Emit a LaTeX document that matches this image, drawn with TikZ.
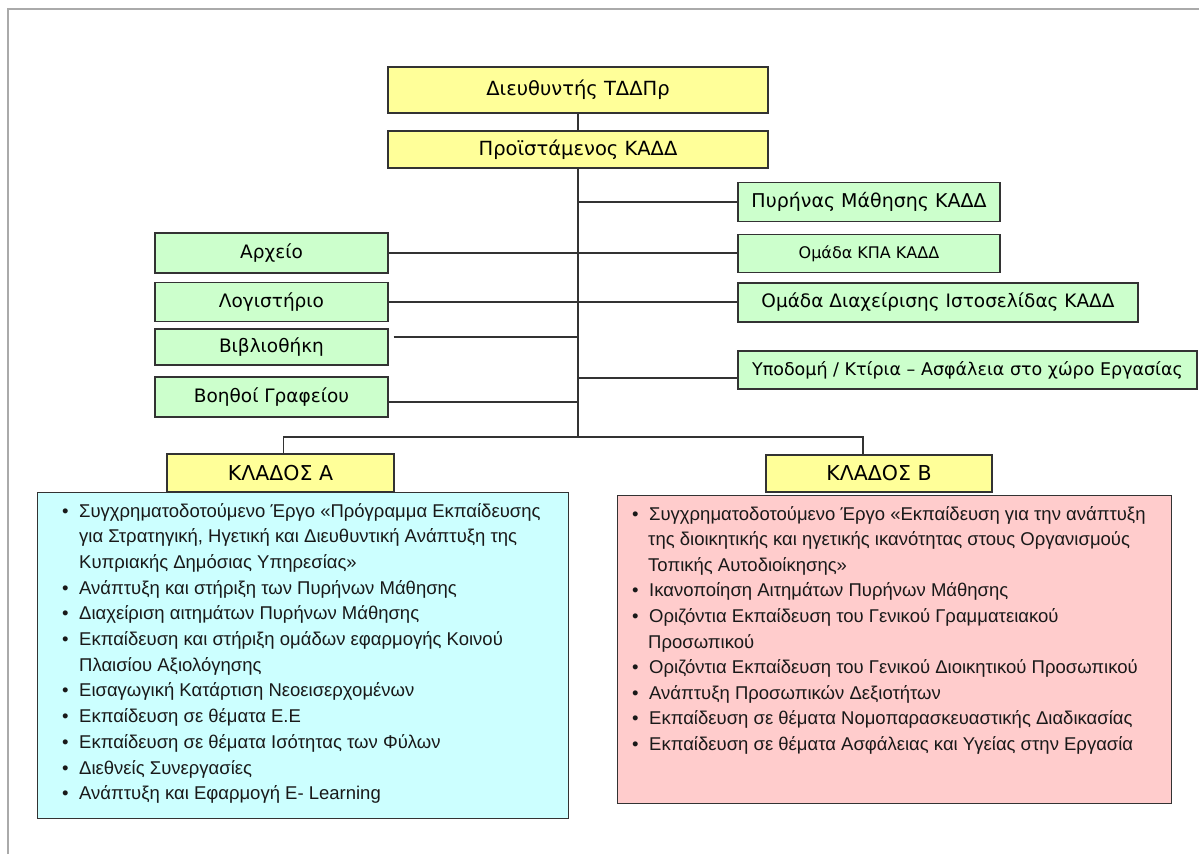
\documentclass[tikz,border=0pt]{standalone}
\usepackage{fontspec}
\setmainfont{Liberation Sans}
\newfontfamily\labfont{DejaVu Sans}
\usetikzlibrary{calc}
\definecolor{ylw}{HTML}{FFFF99}
\definecolor{grn}{HTML}{CCFFCC}
\definecolor{cyn}{HTML}{CCFFFF}
\definecolor{pnk}{HTML}{FFCCCC}
\definecolor{edgec}{HTML}{333333}
\definecolor{framec}{HTML}{AAAAAA}
\newcommand\lbul{\makebox[17pt][l]{\textbullet}}
\begin{document}
\begin{tikzpicture}[x=1pt,y=-1pt,
  box/.style={draw=edgec,line width=1.4pt,inner sep=0pt,text=black,font=\labfont\fontsize{18.5}{20}\selectfont},
  ybox/.style={box,fill=ylw},
  gbox/.style={box,fill=grn},
  conn/.style={draw=edgec,line width=1.6pt},
  ltxt/.style={anchor=base west,inner sep=0pt,font=\fontsize{18.5}{22}\selectfont,text=black!90}]
\useasboundingbox (0,0) rectangle (1199,854);
\fill[white] (0,0) rectangle (1199,854);
\draw[framec,line width=1.5pt] (8,854) -- (8,9) -- (1199,9);

% top boxes
\node[ybox,minimum width=380pt,minimum height=46pt,font=\labfont\fontsize{19.5}{21}\selectfont] (dir) at (578,90) {Διευθυντής ΤΔΔΠρ};
\node[ybox,minimum width=380pt,minimum height=37pt,font=\labfont\fontsize{19.5}{21}\selectfont] (pro) at (578,149.5) {Προϊστάμενος ΚΑΔΔ};

% left boxes
\node[gbox,minimum width=233pt,minimum height=40pt] (arx) at (271.5,253) {Αρχείο};
\node[gbox,minimum width=233pt,minimum height=39pt] (log) at (271.5,302) {Λογιστήριο};
\node[gbox,minimum width=233pt,minimum height=36pt] (vib) at (271.5,347) {Βιβλιοθήκη};
\node[gbox,minimum width=233pt,minimum height=40pt] (voi) at (271.5,397) {Βοηθοί Γραφείου};

% right boxes
\node[gbox,minimum width=262pt,minimum height=39pt,font=\labfont\fontsize{19}{21}\selectfont] (pyr) at (869,202) {Πυρήνας Μάθησης ΚΑΔΔ};
\node[gbox,minimum width=262pt,minimum height=38pt,font=\labfont\fontsize{16}{18}\selectfont] (kpa) at (869,253.5) {Ομάδα ΚΠΑ ΚΑΔΔ};
\node[gbox,minimum width=400pt,minimum height=39pt] (dia) at (938,302.5) {Ομάδα Διαχείρισης Ιστοσελίδας ΚΑΔΔ};
\node[gbox,minimum width=459pt,minimum height=38pt,font=\labfont\fontsize{17.5}{19}\selectfont] (ypo) at (967.5,370) {Υποδομή / Κτίρια – Ασφάλεια στο χώρο Εργασίας};

% connectors
\coordinate (j) at (578,437);
\draw[conn] (dir) -- (pro);
\draw[conn] (pro.south) -- (j);
\draw[conn] (pyr.west) -- (pyr.west -| j);
\draw[conn] (arx.east) -- (arx.east -| kpa.west);
\draw[conn] (log.east) -- (log.east -| dia.west);
\coordinate (vibc) at ($(vib.east)+(5,-10)$);
\draw[conn] (vibc) -- (vibc -| j);
\coordinate (voic) at ($(voi.east)+(0,5)$);
\draw[conn] (voic) -- (voic -| j);
\coordinate (ypoc) at ($(ypo.west)+(0,8)$);
\draw[conn] (ypoc -| j) -- (ypoc);

% branch boxes
\node[draw=edgec,line width=1.4pt,fill=cyn,anchor=north west,minimum width=531pt,minimum height=326pt,inner sep=0pt] (blu) at (37,492) {};
\node[draw=edgec,line width=1.4pt,fill=pnk,anchor=north west,minimum width=554pt,minimum height=308pt,inner sep=0pt] (pin) at (617,495) {};
\node[ybox,minimum width=227pt,minimum height=38pt,font=\labfont\fontsize{20.5}{22}\selectfont] (ka) at (280.5,473) {ΚΛΑΔΟΣ Α};
\node[ybox,minimum width=226pt,minimum height=37pt,font=\labfont\fontsize{20.5}{22}\selectfont] (kb) at (879,473.5) {ΚΛΑΔΟΣ Β};
\draw[conn] ($(ka.north)+(3,0)$) |- (j) -| ($(kb.north)+(-16,0)$);

% list A
\node[ltxt] (a0) at (62,517) {\lbul Συγχρηματοδοτούμενο Έργο «Πρόγραμμα Εκπαίδευσης};
\node[ltxt] (a1) at (79,542.7) {για Στρατηγική, Ηγετική και Διευθυντική Ανάπτυξη της};
\node[ltxt] (a2) at (79,568.4) {Κυπριακής Δημόσιας Υπηρεσίας»};
\node[ltxt] (a3) at (62,594.1) {\lbul Ανάπτυξη και στήριξη των Πυρήνων Μάθησης};
\node[ltxt] (a4) at (62,619.8) {\lbul Διαχείριση αιτημάτων Πυρήνων Μάθησης};
\node[ltxt] (a5) at (62,645.5) {\lbul Εκπαίδευση και στήριξη ομάδων εφαρμογής Κοινού};
\node[ltxt] (a6) at (79,671.2) {Πλαισίου Αξιολόγησης};
\node[ltxt] (a7) at (62,696.9) {\lbul Εισαγωγική Κατάρτιση Νεοεισερχομένων};
\node[ltxt] (a8) at (62,722.6) {\lbul Εκπαίδευση σε θέματα Ε.Ε};
\node[ltxt] (a9) at (62,748.3) {\lbul Εκπαίδευση σε θέματα Ισότητας των Φύλων};
\node[ltxt] (a10) at (62,774) {\lbul Διεθνείς Συνεργασίες};
\node[ltxt] (a11) at (62,799.7) {\lbul Ανάπτυξη και Εφαρμογή E- Learning};

% list B
\node[ltxt] (b0) at (632,520) {\lbul Συγχρηματοδοτούμενο Έργο «Εκπαίδευση για την ανάπτυξη};
\node[ltxt] (b1) at (648,545.6) {της διοικητικής και ηγετικής ικανότητας στους Οργανισμούς};
\node[ltxt] (b2) at (648,571.2) {Τοπικής Αυτοδιοίκησης»};
\node[ltxt] (b3) at (632,596.8) {\lbul Ικανοποίηση Αιτημάτων Πυρήνων Μάθησης};
\node[ltxt] (b4) at (632,622.4) {\lbul Οριζόντια Εκπαίδευση του Γενικού Γραμματειακού};
\node[ltxt] (b5) at (648,648) {Προσωπικού};
\node[ltxt] (b6) at (632,673.6) {\lbul Οριζόντια Εκπαίδευση του Γενικού Διοικητικού Προσωπικού};
\node[ltxt] (b7) at (632,699.2) {\lbul Ανάπτυξη Προσωπικών Δεξιοτήτων};
\node[ltxt] (b8) at (632,724.8) {\lbul Εκπαίδευση σε θέματα Νομοπαρασκευαστικής Διαδικασίας};
\node[ltxt] (b9) at (632,750.4) {\lbul Εκπαίδευση σε θέματα Ασφάλειας και Υγείας στην Εργασία};
\end{tikzpicture}
\end{document}
